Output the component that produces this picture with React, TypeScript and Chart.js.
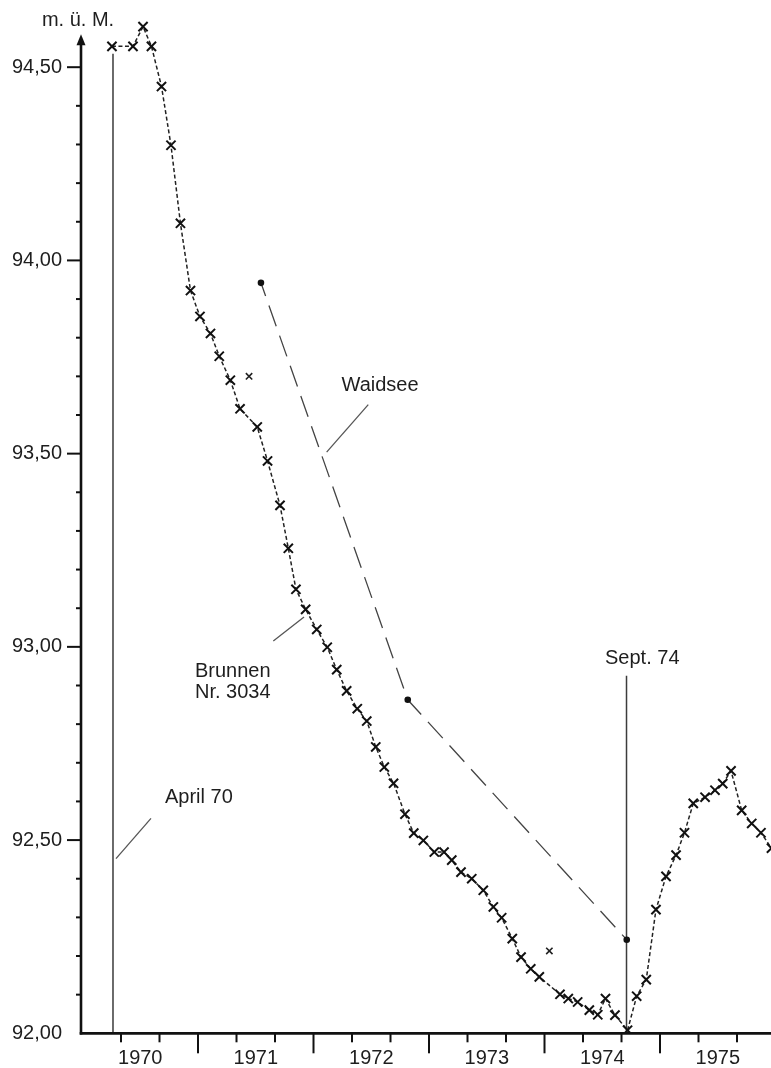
import { useEffect, useRef } from "react";
import { Chart, registerables } from "chart.js";

Chart.register(...registerables);

// Brunnen Nr. 3034 – monthly readings (decimal year, m ü. M.)
const brunnenYears = [
  1970.255, 1970.437, 1970.524, 1970.597, 1970.684, 1970.766, 1970.848, 1970.935,
  1971.017, 1971.108, 1971.184, 1971.28, 1971.364, 1971.513, 1971.602, 1971.71,
  1971.782, 1971.848, 1971.932, 1972.028, 1972.119, 1972.201, 1972.287, 1972.379,
  1972.461, 1972.539, 1972.613, 1972.693, 1972.792, 1972.868, 1972.951, 1973.046,
  1973.13, 1973.197, 1973.277, 1973.37, 1973.47, 1973.557, 1973.629, 1973.721,
  1973.797, 1973.881, 1973.955, 1974.134, 1974.206, 1974.287, 1974.388, 1974.461,
  1974.528, 1974.61, 1974.719, 1974.798, 1974.881, 1974.965, 1975.052, 1975.139,
  1975.212, 1975.288, 1975.39, 1975.476, 1975.543, 1975.615, 1975.707, 1975.794,
  1975.874, 1975.965,
];
const brunnenLevels = [
  94.554, 94.554, 94.605, 94.554, 94.45, 94.298, 94.096, 93.922,
  93.855, 93.811, 93.752, 93.69, 93.616, 93.569, 93.481, 93.366,
  93.255, 93.149, 93.097, 93.045, 92.999, 92.941, 92.886, 92.84,
  92.808, 92.741, 92.689, 92.647, 92.567, 92.518, 92.499, 92.469,
  92.469, 92.448, 92.417, 92.4, 92.37, 92.327, 92.299, 92.245,
  92.197, 92.167, 92.146, 92.101, 92.09, 92.081, 92.06, 92.048,
  92.09, 92.047, 92.008, 92.096, 92.139, 92.32, 92.406, 92.461,
  92.519, 92.595, 92.611, 92.629, 92.646, 92.679, 92.577, 92.543,
  92.519, 92.479,
];

// Single readings outside the connected series
const strayYears = [1971.442, 1974.042];
const strayLevels = [93.7, 92.213];

// Waidsee – lake level
const waidseeYears = [1971.545, 1972.816, 1974.712];
const waidseeLevels = [93.942, 92.863, 92.242];

// Marked dates
const aprilYear = 1970.264;
const septYear = 1974.71;

// Axis ticks
const yearLabels = [1970, 1971, 1972, 1973, 1974, 1975];
const levelTicks = [92, 92.5, 93, 93.5, 94, 94.5];

const FONT = '"Liberation Sans", Arial, Helvetica, sans-serif';
const INK = "#1e1e1e";

const toPoints = (xs: number[], ys: number[]) => xs.map((x, i) => ({ x, y: ys[i] }));

const noScalePadding = (scale: any) => {
  scale.paddingLeft = 0;
  scale.paddingRight = 0;
  scale.paddingTop = 0;
  scale.paddingBottom = 0;
};

const framePlugin = {
  id: "frame",
  beforeDatasetsDraw(chart: any) {
    const { ctx, chartArea, scales } = chart;
    const xs = scales.x;
    const ys = scales.y;
    const px = (v: number) => xs.getPixelForValue(v);
    const py = (v: number) => ys.getPixelForValue(v);
    const seg = (x1: number, y1: number, x2: number, y2: number) => {
      ctx.beginPath();
      ctx.moveTo(px(x1), py(y1));
      ctx.lineTo(px(x2), py(y2));
      ctx.stroke();
    };
    ctx.save();
    ctx.lineCap = "butt";
    // date markers
    ctx.strokeStyle = "#3c3c3c";
    ctx.lineWidth = 1.5;
    ctx.beginPath();
    ctx.moveTo(px(aprilYear), py(94.535));
    ctx.lineTo(px(aprilYear), chartArea.bottom);
    ctx.moveTo(px(septYear), py(92.925));
    ctx.lineTo(px(septYear), chartArea.bottom);
    ctx.stroke();
    // leader lines
    ctx.strokeStyle = "#555";
    ctx.lineWidth = 1.3;
    seg(1972.474, 93.627, 1972.114, 93.504);
    seg(1971.652, 93.015, 1971.918, 93.077);
    seg(1970.593, 92.556, 1970.29, 92.452);
    // labels
    ctx.fillStyle = INK;
    ctx.font = `20px ${FONT}`;
    ctx.textBaseline = "middle";
    ctx.textAlign = "center";
    ctx.fillText("Waidsee", px(1972.576), py(93.677));
    ctx.textAlign = "left";
    ctx.fillText("Brunnen", px(1970.974), py(92.937));
    ctx.fillText("Nr. 3034", px(1970.974), py(92.881));
    ctx.fillText("April 70", px(1970.714), py(92.611));
    ctx.fillText("Sept. 74", px(1974.524), py(92.969));
    ctx.restore();
  },
  afterDatasetsDraw(chart: any) {
    const { ctx, chartArea, scales } = chart;
    const xs = scales.x;
    const ys = scales.y;
    const left = chartArea.left;
    const bottom = chartArea.bottom;
    ctx.save();
    ctx.strokeStyle = "#111";
    ctx.fillStyle = "#111";
    ctx.lineCap = "butt";
    // ordinate with arrow
    const arrowTip = ys.getPixelForValue(94.585);
    ctx.lineWidth = 2.6;
    ctx.beginPath();
    ctx.moveTo(left, bottom + 1.3);
    ctx.lineTo(left, arrowTip + 6);
    ctx.stroke();
    ctx.beginPath();
    ctx.moveTo(left, arrowTip);
    ctx.lineTo(left - 4.5, arrowTip + 11);
    ctx.lineTo(left + 4.5, arrowTip + 11);
    ctx.closePath();
    ctx.fill();
    // abscissa
    ctx.lineWidth = 2.8;
    ctx.beginPath();
    ctx.moveTo(left - 1.3, bottom);
    ctx.lineTo(chartArea.right, bottom);
    ctx.stroke();
    // level ticks: major every 0.5 m, minor every 0.1 m
    ctx.lineWidth = 2;
    for (let i = 1; i <= 25; i++) {
      const y = ys.getPixelForValue(92 + i * 0.1);
      const major = i % 5 === 0;
      ctx.beginPath();
      ctx.moveTo(left - (major ? 14 : 5), y);
      ctx.lineTo(left, y);
      ctx.stroke();
    }
    // time ticks every four months, longer at year boundaries
    for (let i = 1; i <= 18; i++) {
      const x = xs.getPixelForValue(1970 + i / 3);
      if (x > chartArea.right) break;
      const yearMark = i % 3 === 0;
      ctx.beginPath();
      ctx.moveTo(x, bottom);
      ctx.lineTo(x, bottom + (yearMark ? 20 : 9));
      ctx.stroke();
    }
    // unit
    ctx.fillStyle = INK;
    ctx.font = `20px ${FONT}`;
    ctx.textAlign = "center";
    ctx.textBaseline = "middle";
    ctx.fillText("m. ü. M.", xs.getPixelForValue(1969.961), ys.getPixelForValue(94.621));
    ctx.restore();
  },
};

export default function App() {
  const canvasRef = useRef<HTMLCanvasElement | null>(null);

  useEffect(() => {
    const canvas = canvasRef.current;
    if (!canvas) return;
    const chart = new Chart(canvas, {
      type: "scatter",
      data: {
        datasets: [
          {
            label: "Brunnen Nr. 3034",
            data: toPoints(brunnenYears, brunnenLevels),
            showLine: true,
            borderColor: "#222",
            borderWidth: 1.5,
            borderDash: [4, 2.5],
            pointStyle: "crossRot",
            pointRadius: 6.5,
            pointBorderWidth: 2,
            pointBorderColor: "#111",
            pointBackgroundColor: "#111",
          },
          {
            label: "Einzelwerte",
            data: toPoints(strayYears, strayLevels),
            showLine: false,
            pointStyle: "crossRot",
            pointRadius: 4.5,
            pointBorderWidth: 1.6,
            pointBorderColor: "#222",
          },
          {
            label: "Waidsee",
            data: toPoints(waidseeYears, waidseeLevels),
            showLine: true,
            borderColor: "#444",
            borderWidth: 1.3,
            borderDash: [22, 10],
            borderDashOffset: 8,
            pointStyle: "circle",
            pointRadius: 3.3,
            pointBorderWidth: 0,
            pointBackgroundColor: "#111",
          },
        ],
      },
      options: {
        responsive: false,
        animation: false,
        events: [],
        layout: { autoPadding: false, padding: { top: 10, left: 0, right: 0, bottom: 0 } },
        plugins: {
          legend: { display: false },
          tooltip: { enabled: false },
        },
        scales: {
          x: {
            type: "linear",
            min: 1969.987,
            max: 1975.961,
            grid: { display: false, drawTicks: false },
            border: { display: false },
            afterBuildTicks: (scale: any) => {
              scale.ticks = yearLabels.map((yr) => ({ value: yr + 0.5 }));
            },
            afterFit: (scale: any) => {
              scale.height = 34.7;
              noScalePadding(scale);
            },
            ticks: {
              autoSkip: false,
              maxRotation: 0,
              padding: 13,
              color: INK,
              font: { family: FONT, size: 20 },
              callback: (v: any) => String(Math.floor(Number(v))),
            },
          },
          y: {
            type: "linear",
            min: 92,
            max: 94.648,
            grid: { display: false, drawTicks: false },
            border: { display: false },
            afterBuildTicks: (scale: any) => {
              scale.ticks = levelTicks.map((v) => ({ value: v }));
            },
            afterFit: (scale: any) => {
              scale.width = 81;
              noScalePadding(scale);
            },
            ticks: {
              padding: 19,
              color: INK,
              font: { family: FONT, size: 20 },
              callback: (v: any) => Number(v).toFixed(2).replace(".", ","),
            },
          },
        },
      },
      plugins: [framePlugin],
    } as any);
    return () => chart.destroy();
  }, []);

  return (
    <div style={{ position: "absolute", left: 0, top: 0, width: 771, height: 1068, background: "#fff" }}>
      <canvas ref={canvasRef} width={771} height={1068} style={{ display: "block" }} />
    </div>
  );
}
